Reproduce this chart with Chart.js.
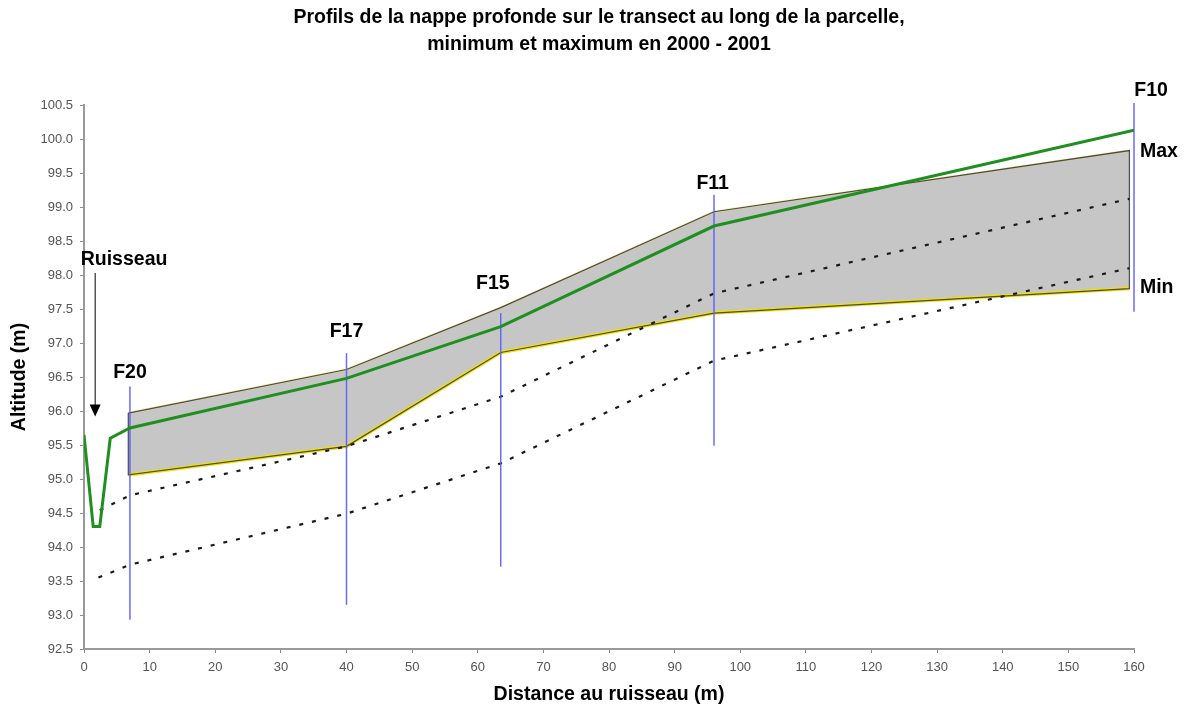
<!DOCTYPE html>
<html>
<head>
<meta charset="utf-8">
<script src="https://cdn.jsdelivr.net/npm/chart.js@4.4.0/dist/chart.umd.min.js"></script>
<style>
  html, body { margin: 0; padding: 0; background: #fff; }
  canvas { display: block; }
</style>
</head>
<body>
<canvas id="c" width="1185" height="711"></canvas>
<script>
// ---------- DATA ----------
const titleLines = ["Profils de la nappe profonde sur le transect au long de la parcelle,", "minimum et maximum en 2000 - 2001"];
const xTitle = "Distance au ruisseau (m)";
const yTitle = "Altitude (m)";

// Ground surface (green)
const terrainDist = [0, 1.4, 2.4, 4.0, 7, 40, 63.5, 96, 160];
const terrainAlt  = [95.65, 94.3, 94.3, 95.6, 95.75, 96.48, 97.24, 98.72, 100.13];

// Max / min envelope of the deep water table (grey band)
const envDist = [6.75, 40, 63.5, 96, 159.3];
const envMax  = [95.97, 96.61, 97.52, 98.93, 99.83];
const envMin  = [95.06, 95.48, 96.86, 97.44, 97.80];

// Dotted profiles
const dotUpperDist = [2.4, 7, 40, 63.5, 96, 159.3];
const dotUpperAlt  = [94.54, 94.76, 95.48, 96.21, 97.73, 99.12];
const dotLowerDist = [2.2, 7, 40, 63.5, 96, 159.3];
const dotLowerAlt  = [93.55, 93.74, 94.49, 95.23, 96.74, 98.10];

// Piezometers (blue vertical lines)
const piezoNames  = ["F20", "F17", "F15", "F11", "F10"];
const piezoDist   = [7, 40, 63.5, 96, 160];
const piezoTop    = [96.36, 96.85, 97.44, 99.18, 100.53];
const piezoBottom = [92.93, 93.15, 93.71, 95.49, 97.46];
const piezoLabelDist = [7.0, 40, 62.3, 95.8, 162.6];
const piezoLabelAlt  = [96.56, 97.16, 97.88, 99.35, 100.71];

// Other annotations
const envLabels = ["Max", "Min"];
const envLabelDist = [160.9, 160.9];
const envLabelAlt  = [99.81, 97.82];
const streamLabel = "Ruisseau";
const streamLabelDist = 6.1, streamLabelAlt = 98.22;
const arrowDist = 1.7, arrowTopAlt = 98.03, arrowTipAlt = 95.92;

// Axes
const xMin = 0, xMax = 160, xStep = 10;
const yMin = 92.5, yMax = 100.5, yStep = 0.5;

// ---------- BUILD ----------
const pts = (xs, ys) => xs.map((v, i) => ({ x: v, y: ys[i] }));
const FONT = "'Liberation Sans', Arial, Helvetica, sans-serif";

const polygon = pts(envDist, envMax)
  .concat(pts(envDist, envMin).reverse())
  .concat([{ x: envDist[0], y: envMax[0] }]);

const datasets = [];
datasets.push({ label: "Terrain", data: pts(terrainDist, terrainAlt), showLine: true,
  borderColor: "#1f8f1f", borderWidth: 3, pointRadius: 0, order: 0, fill: false, tension: 0 });
piezoDist.forEach((d, i) => datasets.push({
  label: piezoNames[i], data: [{ x: d, y: piezoBottom[i] }, { x: d, y: piezoTop[i] }],
  showLine: true, borderColor: "rgba(90,90,255,0.9)", borderWidth: 1.5, pointRadius: 0,
  order: 1, fill: false, clip: false }));
datasets.push({ label: "Profil 1", data: pts(dotUpperDist, dotUpperAlt), showLine: true,
  borderColor: "#1a1a1a", borderWidth: 2.2, borderDash: [4, 9], pointRadius: 0, order: 2, fill: false });
datasets.push({ label: "Profil 2", data: pts(dotLowerDist, dotLowerAlt), showLine: true,
  borderColor: "#1a1a1a", borderWidth: 2.2, borderDash: [4, 9], pointRadius: 0, order: 2, fill: false });
datasets.push({ label: "Contour", data: polygon, showLine: true, borderColor: "#4a4a4a",
  borderWidth: 1.2, pointRadius: 0, order: 3, fill: false });
datasets.push({ label: "MinJaune", data: pts(envDist, envMin), showLine: true, borderColor: "#f2e200",
  borderWidth: 3.5, pointRadius: 0, order: 4, fill: false });
datasets.push({ label: "MaxJaune", data: pts(envDist, envMax), showLine: true, borderColor: "rgba(235,220,80,0.45)",
  borderWidth: 2.5, pointRadius: 0, order: 4, fill: false });
const minIndex = datasets.length + 1;
datasets.push({ label: "Max", data: pts(envDist, envMax), showLine: true, borderWidth: 0,
  borderColor: "rgba(0,0,0,0)", backgroundColor: "rgb(198,198,198)", pointRadius: 0, order: 5,
  fill: { target: minIndex } });
datasets.push({ label: "Min", data: pts(envDist, envMin), showLine: true, borderWidth: 0,
  borderColor: "rgba(0,0,0,0)", pointRadius: 0, order: 5, fill: false });

const annot = {
  id: "annot",
  afterDraw(chart) {
    const { ctx, scales: { x, y } } = chart;
    ctx.save();
    ctx.fillStyle = "#000";
    ctx.textBaseline = "middle";
    ctx.textAlign = "center";
    // chart title
    ctx.font = "bold 19.5px " + FONT;
    ctx.fillText(titleLines[0], 599, 18);
    ctx.fillText(titleLines[1], 599, 45);
    // piezometer labels
    ctx.font = "bold 19.5px " + FONT;
    piezoNames.forEach((n, i) => {
      ctx.fillText(n, x.getPixelForValue(piezoLabelDist[i]), y.getPixelForValue(piezoLabelAlt[i]));
    });
    ctx.textAlign = "left";
    envLabels.forEach((n, i) => {
      ctx.fillText(n, x.getPixelForValue(envLabelDist[i]), y.getPixelForValue(envLabelAlt[i]));
    });
    ctx.textAlign = "center";
    ctx.fillText(streamLabel, x.getPixelForValue(streamLabelDist), y.getPixelForValue(streamLabelAlt));
    // arrow
    const ax = x.getPixelForValue(arrowDist);
    const aTop = y.getPixelForValue(arrowTopAlt);
    const aTip = y.getPixelForValue(arrowTipAlt);
    ctx.strokeStyle = "#000";
    ctx.lineWidth = 1;
    ctx.beginPath();
    ctx.moveTo(ax, aTop);
    ctx.lineTo(ax, aTip - 10);
    ctx.stroke();
    ctx.beginPath();
    ctx.moveTo(ax - 5.5, aTip - 12);
    ctx.lineTo(ax + 5.5, aTip - 12);
    ctx.lineTo(ax, aTip);
    ctx.closePath();
    ctx.fill();
    ctx.restore();
  }
};

new Chart(document.getElementById("c"), {
  type: "scatter",
  data: { datasets },
  plugins: [annot],
  options: {
    responsive: false,
    animation: false,
    devicePixelRatio: 1,
    layout: { padding: { left: 0, right: 51, top: 105, bottom: 0 } },
    plugins: {
      legend: { display: false },
      tooltip: { enabled: false },
      title: { display: false }
    },
    scales: {
      x: {
        type: "linear", min: xMin, max: xMax,
        afterFit(s) { s.height = 62; },
        ticks: { stepSize: xStep, color: "#555", padding: 7, font: { family: FONT, size: 13 }, maxRotation: 0 },
        grid: { display: true, drawOnChartArea: false, drawTicks: true, tickLength: 4, color: "#888" },
        border: { display: true, color: "#999", width: 2 },
        title: { display: true, text: xTitle, color: "#000", font: { family: FONT, size: 19.5, weight: "bold" },
                 padding: { top: 0, bottom: 5 } }
      },
      y: {
        type: "linear", min: yMin, max: yMax,
        afterFit(s) { s.width = 84; },
        ticks: { stepSize: yStep, color: "#555", padding: 7, font: { family: FONT, size: 13 },
                 callback: v => Number(v).toFixed(1) },
        grid: { display: true, drawOnChartArea: false, drawTicks: true, tickLength: 4, color: "#888" },
        border: { display: true, color: "#999", width: 2 },
        title: { display: true, text: yTitle, color: "#000", font: { family: FONT, size: 19.5, weight: "bold" },
                 padding: { top: 8, bottom: 0 } }
      }
    }
  }
});
</script>
</body>
</html>
